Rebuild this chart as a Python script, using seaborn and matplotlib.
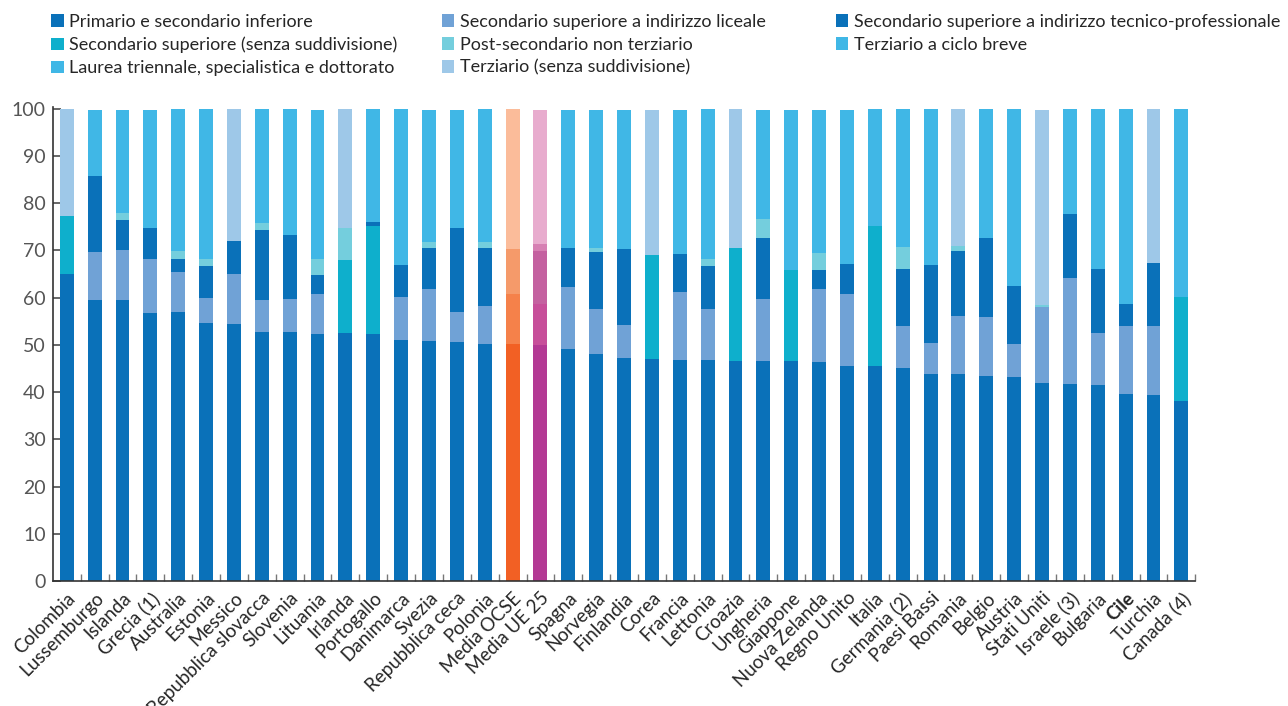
import pandas as pd
import seaborn as sns
import matplotlib.pyplot as plt
from matplotlib.patches import Patch

paesi = ["Colombia", "Lussemburgo", "Islanda", "Grecia (1)", "Australia", "Estonia",
         "Messico", "Repubblica slovacca", "Slovenia", "Lituania", "Irlanda", "Portogallo",
         "Danimarca", "Svezia", "Repubblica ceca", "Polonia", "Media OCSE", "Media UE 25",
         "Spagna", "Norvegia", "Finlandia", "Corea", "Francia", "Lettonia", "Croazia",
         "Ungheria", "Giappone", "Nuova Zelanda", "Regno Unito", "Italia", "Germania (2)",
         "Paesi Bassi", "Romania", "Belgio", "Austria", "Stati Uniti", "Israele (3)",
         "Bulgaria", "Cile", "Turchia", "Canada (4)"]

primario = [65.1, 59.6, 59.6, 56.8, 57.0, 54.7, 54.5, 52.8, 52.8, 52.4, 52.6, 52.4, 51.1, 50.9,
            50.7, 50.1, 50.1, 49.9, 49.2, 48.0, 47.3, 47.1, 46.7, 46.7, 46.5, 46.5, 46.5, 46.3,
            45.6, 45.6, 45.0, 43.9, 43.9, 43.5, 43.3, 42.0, 41.8, 41.6, 39.7, 39.3, 38.2]
liceale = [0, 10.1, 10.5, 11.4, 8.5, 5.3, 10.6, 6.6, 7.0, 8.4, 0, 0, 9.1, 11.0, 6.3, 8.2, 10.7,
           8.8, 13.1, 9.5, 7.0, 0, 14.4, 10.8, 0, 13.3, 0, 15.6, 15.2, 0, 9.1, 6.4, 12.3, 12.5,
           6.8, 16.1, 22.4, 11.0, 14.4, 14.6, 0]
sec_senza = [12.2, 0, 0, 0, 0, 0, 0, 0, 0, 0, 15.4, 22.8, 0, 0, 0, 0, 0, 0, 0, 0, 0, 22.0, 0,
             0, 24.1, 0, 19.4, 0, 0, 29.6, 0, 0, 0, 0, 0, 0, 0, 0, 0, 0, 22.0]
tecnico = [0, 16.1, 6.4, 6.6, 2.7, 6.8, 6.9, 15.0, 13.5, 4.1, 0, 0.9, 6.8, 8.7, 17.8, 12.3, 9.6,
           11.2, 8.3, 12.2, 16.1, 0, 8.2, 9.3, 0, 12.9, 0, 4.0, 6.4, 0, 12.0, 16.7, 13.7, 16.7,
           12.4, 0, 13.5, 13.5, 4.6, 13.5, 0]
post_sec = [0, 0, 1.5, 0, 1.7, 1.4, 0, 1.4, 0, 3.3, 6.8, 0, 0, 1.2, 0, 1.2, 0, 1.5, 0, 0.9, 0,
            0, 0, 1.4, 0, 4.0, 0, 3.6, 0, 0, 4.7, 0, 1.1, 0, 0, 0.4, 0, 0, 0, 0, 0]
# terziario (ciclo breve + laurea, stesso colore nel grafico)
laurea = [0, 13.9, 21.7, 24.9, 30.1, 31.8, 0, 24.2, 26.7, 31.5, 0, 23.9, 33.0, 27.9, 24.9, 28.2,
          29.6, 28.3, 29.1, 29.1, 29.3, 0, 30.4, 31.8, 0, 23.0, 33.8, 30.2, 32.5, 24.8, 29.2,
          33.0, 0, 27.3, 37.5, 0, 22.3, 33.9, 41.3, 0, 39.8]
terz_senza = [22.7, 0, 0, 0, 0, 0, 28.0, 0, 0, 0, 25.2, 0, 0, 0, 0, 0, 0, 0, 0, 0, 0, 30.6, 0,
              0, 29.4, 0, 0, 0, 0, 0, 0, 0, 29.0, 0, 0, 41.2, 0, 0, 0, 32.6, 0]

df = pd.DataFrame({"paese": paesi, "primario": primario, "liceale": liceale,
                   "sec_senza": sec_senza, "tecnico": tecnico, "post_sec": post_sec,
                   "laurea": laurea, "terz_senza": terz_senza})

livelli = ["primario", "liceale", "sec_senza", "tecnico", "post_sec", "laurea", "terz_senza"]
colori = {"primario": "#0a71b9", "liceale": "#70a2d6", "sec_senza": "#0eafcc",
          "tecnico": "#0a71b9", "post_sec": "#74cedd", "laurea": "#40b7e6",
          "terz_senza": "#9ec8e8"}
colori_ocse = {"primario": "#f26024", "liceale": "#f5814a", "sec_senza": "#f5814a",
               "tecnico": "#f59a6a", "post_sec": "#f8ab82", "laurea": "#fbbc9a",
               "terz_senza": "#fbbc9a"}
colori_ue = {"primario": "#b33994", "liceale": "#c74f9a", "sec_senza": "#c74f9a",
             "tecnico": "#c461a0", "post_sec": "#d680b3", "laurea": "#e8acce",
             "terz_senza": "#e8acce"}

sns.set_theme(style="ticks")
plt.rcParams['font.family'] = ['Lato', 'DejaVu Sans']

fig = plt.figure(figsize=(12.88, 7.06), dpi=100)
ax = fig.add_axes([0.041, 0.177, 0.887, 0.671])

# barre cumulative disegnate dall'alto verso il basso
for k in range(len(livelli) - 1, -1, -1):
    cum = df[livelli[:k + 1]].sum(axis=1)
    pal = {}
    for p in paesi:
        if p == "Media OCSE":
            pal[p] = colori_ocse[livelli[k]]
        elif p == "Media UE 25":
            pal[p] = colori_ue[livelli[k]]
        else:
            pal[p] = colori[livelli[k]]
    sns.barplot(x=df["paese"], y=cum, hue=df["paese"], palette=pal, order=paesi,
                legend=False, width=0.5, saturation=1, linewidth=0, ax=ax)

ax.set_xlim(-0.5, len(paesi) - 0.5)
ax.set_ylim(0, 100.3)
ax.set_yticks(range(0, 101, 10))
ax.set_xlabel('')
ax.set_ylabel('')
ax.set_xticks(range(len(paesi)))
ax.set_xticklabels(paesi, rotation=45, ha='right', rotation_mode='anchor', fontsize=13.5)
ax.set_xticks([i + 0.5 for i in range(len(paesi))], minor=True)
ax.tick_params(axis='x', which='major', length=0, pad=6)
ax.tick_params(axis='x', which='minor', direction='in', length=5, color='#777777', width=1)
ax.tick_params(axis='y', direction='in', length=6, color='#555555', labelsize=14,
               labelcolor='#555555', pad=5)
for lab in ax.get_xticklabels():
    if lab.get_text() == "Cile":
        lab.set_fontweight('bold')
for s in ['top', 'right']:
    ax.spines[s].set_visible(False)
for s in ['left', 'bottom']:
    ax.spines[s].set_color('#333333')
    ax.spines[s].set_linewidth(1.2)

voci = [
    [("Primario e secondario inferiore", colori["primario"]),
     ("Secondario superiore (senza suddivisione)", colori["sec_senza"]),
     ("Laurea triennale, specialistica e dottorato", colori["laurea"])],
    [("Secondario superiore a indirizzo liceale", colori["liceale"]),
     ("Post-secondario non terziario", colori["post_sec"]),
     ("Terziario (senza suddivisione)", colori["terz_senza"])],
    [("Secondario superiore a indirizzo tecnico-professionale", colori["tecnico"]),
     ("Terziario a ciclo breve", colori["laurea"])],
]
xs = [0.030, 0.333, 0.639]
for x0, col in zip(xs, voci):
    handles = [Patch(facecolor=c, edgecolor='none', label=t) for t, c in col]
    fig.legend(handles=handles, loc='upper left', bbox_to_anchor=(x0, 0.998),
               frameon=False, fontsize=13, handlelength=0.7, handleheight=0.7,
               handletextpad=0.3, labelspacing=0.38, borderaxespad=0.3)

plt.savefig('out.png', dpi=100)
